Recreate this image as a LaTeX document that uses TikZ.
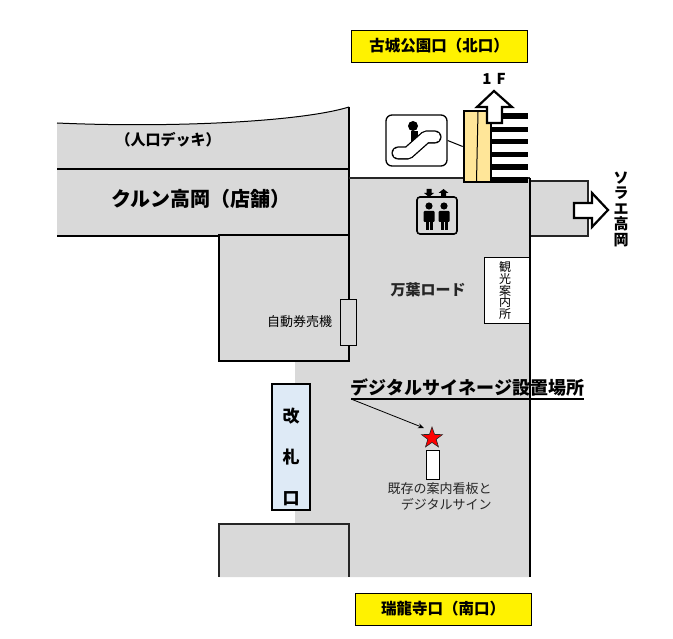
\documentclass[tikz,border=0pt]{standalone}
\usepackage{fontspec}
\setmainfont{Noto Sans CJK JP}
\usepackage{xcolor}
\usetikzlibrary{shapes.geometric}
\usetikzlibrary{arrows.meta}
\definecolor{floor}{HTML}{D9D9D9}
\definecolor{gate}{HTML}{DEEAF6}
\definecolor{esc}{HTML}{FFE699}
\definecolor{ink}{HTML}{262626}
\tikzset{
  exitbox/.style={draw, thick, fill=yellow, minimum width=176, minimum height=32, inner sep=0pt, font=\fontsize{15.5}{17}\selectfont\bfseries},
  wall/.style={draw=black, line width=2},
  thinwall/.style={draw=ink, line width=1.3},
  blockarrow/.style={draw=black, fill=white, line width=2.2, miter limit=10},
  whitebox/.style={draw=black, fill=white, line width=.8, inner sep=0pt}
}
\newcommand{\fs}[1]{\fontsize{#1}{#1}\selectfont}
\begin{document}
\begin{tikzpicture}[x=1pt,y=-1pt]
  \useasboundingbox (0,0) rectangle (673,639);
  % floor
  \fill[floor] (57,123) .. controls (170,128) and (300,122) .. (349,107) -- (349,178) -- (530,178)
    -- (530,577) -- (219,577) -- (219,524) -- (295,524) -- (295,361) -- (219,361) -- (219,236) -- (57,236) -- cycle;
  \fill[floor] (531,181) rectangle (588,236);
  \draw[line width=1] (57,123) .. controls (170,128) and (300,122) .. (349,107);
  \draw[wall] (57,169) -- (349,169);
  \draw[wall] (57,236) -- (219,236);
  \draw[wall] (349,107) -- (349,235);
  \draw[wall] (219,235) -- (349,235) -- (349,361) -- (219,361) -- cycle;
  \draw[thinwall] (349,178) -- (530,178);
  \draw[wall] (530,178) -- (530,577);
  \draw[thinwall] (531,181) -- (588,181) -- (588,236) -- (531,236);
  \draw[thinwall] (219,577) -- (219,524) -- (349,524) -- (349,577);

  % stairs
  \foreach \ya/\yb in {113/119, 127/132, 139/144, 152/157, 164/170, 177/183} {
    \fill (490,\ya) rectangle (528,\yb);
  }

  \node[draw=black, fill=esc, line width=2.6, minimum width=27, minimum height=71, inner sep=0pt] (escalator) at (477.5,146.5) {};
  \draw[line width=1] (478,112) -- (476.5,182);
  \draw[blockarrow] (494,91) -- (512,107) -- (502,107) -- (502,123) -- (487,123) -- (487,107) -- (477,107) -- cycle;
  \node[font=\fs{15}\bfseries] (floorlab) at (494,79) {1\,\,F};

  \draw[blockarrow] (608,210) -- (592,193) -- (592,203) -- (574,203) -- (574,218) -- (592,218) -- (592,227) -- cycle;

  % escalator icon
  \node[draw=black, fill=white, line width=1.3, rounded corners=6, minimum width=61, minimum height=51, inner sep=0pt] (escicon) at (416.5,140.5) {};
  \draw[line width=1] (escicon.east) -- (escalator.west);
  \fill (413,126) circle (5);
  \fill (410.5,131) rectangle (417.5,144);
  \draw[line width=1.3, double=white, double distance=10.5, line cap=round, line join=round] (398,153) -- (408,153) -- (426,137) -- (435,137);

  % elevator icon
  \node[draw=black, fill=floor, line width=1.6, rounded corners=3, minimum width=40, minimum height=37, inner sep=0pt] (elevator) at (437,215.5) {};
  \foreach \x in {429,444} {
    \fill (\x,206) circle (3.6);
    \fill[rounded corners=1] (\x-5.5,211) rectangle (\x+5.5,222);
    \fill (\x-3.5,220) rectangle (\x+3.5,230);
    \draw[floor, line width=.5] (\x,222) -- (\x,230);
  }
  \fill (426.5,189) rectangle (431.5,193) (424,193) -- (434,193) -- (429,197) -- cycle;
  \fill (441,193) rectangle (446,197) (438.5,193) -- (448.5,193) -- (443.5,189) -- cycle;

  \node[exitbox] (north) at (439,46) {古城公園口（北口）};
  \node[exitbox] (south) at (443,609) {瑞龍寺口（南口）};

  \node[font=\fs{15}\bfseries] (deck) at (168,140) {（人口デッキ）};
  \node[font=\fs{20}\bfseries] (shop) at (201,199) {クルン高岡（店舗）};
  \node[font=\fs{15}\bfseries, text=ink] (road) at (428,290) {万葉ロード};
  \node[font=\fs{13}, text=black] (ticketlab) at (299.5,322) {自動券売機};
  \node[draw=black, fill=floor, line width=.8, minimum width=16, minimum height=46, inner sep=0pt] (ticket) at (348,322) {};

  \node[whitebox, minimum width=45, minimum height=66] (info) at (507,290) {};
  \node[align=center, inner sep=0pt, font=\fontsize{12}{11.6}\selectfont] (infolab) at (505,290.5) {観\\光\\案\\内\\所};

  \node[align=center, inner sep=0pt, font=\fontsize{15}{15.5}\selectfont\bfseries] (sorae) at (621,209) {ソ\\ラ\\エ\\高\\岡};

  \node[draw=black, fill=gate, line width=2, minimum width=38, minimum height=125, inner sep=0pt] (gatebox) at (291,447) {};
  \node[align=center, inner sep=0pt, font=\fontsize{17}{41}\selectfont\bfseries] (gatelab) at (291,456.5) {改\\札\\口};

  \node[font=\fs{18}\bfseries, inner sep=0pt] (signage) at (467.5,387) {デジタルサイネージ設置場所};
  \coordinate (ulstart) at (351,399);
  \coordinate (ulend) at (584,399);
  \coordinate (arrowend) at (424,428);
  \draw[line width=2] (ulstart) -- (ulend);

  \node[star, star points=5, star point ratio=2.5, draw=ink, fill=red, line width=.6, minimum size=22, inner sep=0pt] (target) at (432,438) {};
  \draw[line width=.8, -{Stealth[length=6,width=5]}] (ulstart) -- (arrowend);
  \node[whitebox, minimum width=13, minimum height=29] (sign) at (432.5,464.5) {};
  \node[align=right, inner sep=0pt, font=\fontsize{13}{16}\selectfont, text=ink] (signlab) at (439.5,496) {既存の案内看板と\\デジタルサイン};
\end{tikzpicture}
\end{document}
